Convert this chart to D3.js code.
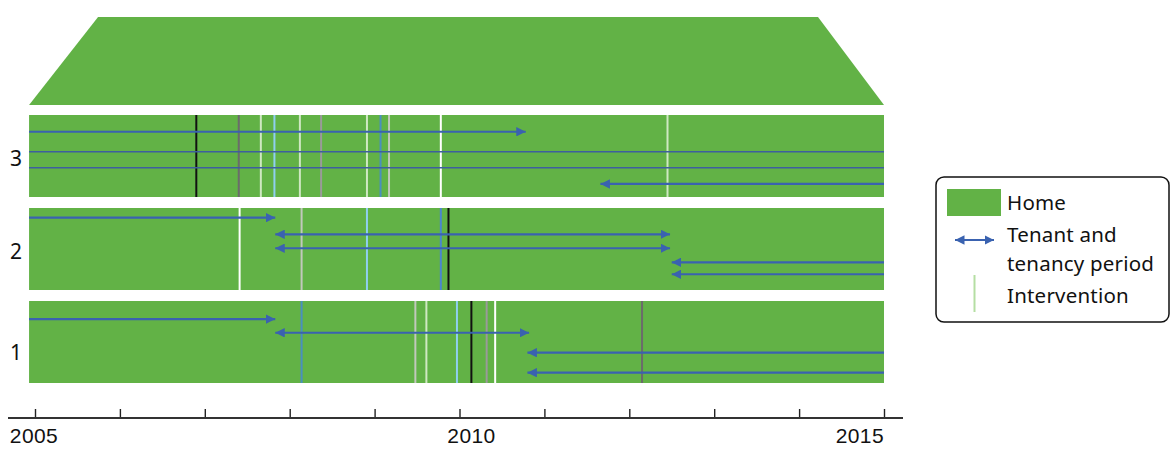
<!DOCTYPE html>
<html>
<head>
<meta charset="utf-8">
<script src="https://cdn.jsdelivr.net/npm/d3@7"></script>
<style>
  html, body { margin: 0; padding: 0; background: #fff; }
  svg { display: block; font-family: "Noto Sans", "Open Sans", sans-serif; }
</style>
</head>
<body>
<svg id="chart" width="1171" height="450"></svg>
<script>
// ---------- data ----------
const homes = ["3", "2", "1"];
const homeStart = 2004.93;
const homeEnd = 2015;
const yearTicks = [2005, 2006, 2007, 2008, 2009, 2010, 2011, 2012, 2013, 2014, 2015];
const yearLabels = [2005, 2010, 2015];

// tenancies: lane is position inside a home, on a 0-10 scale
const tenancyHome  = ["3","3","3","3", "2","2","2","2","2", "1","1","1","1"];
const tenancyLane  = [2.04, 4.48, 6.43, 8.41, 1.18, 3.21, 4.91, 6.62, 8.08, 2.2, 3.87, 6.3, 8.74];
const tenancyStart = [2004.93, 2004.93, 2004.93, 2011.66, 2004.93, 2007.83, 2007.83, 2012.50, 2012.50, 2004.93, 2007.83, 2010.80, 2010.80];
const tenancyEnd   = [2010.78, 2015, 2015, 2015, 2007.83, 2012.48, 2012.48, 2015, 2015, 2007.83, 2010.82, 2015, 2015];
const tenancyHeads = ["end","none","none","start", "end","both","both","start","start", "end","both","start","start"];

// interventions
const interventionHome = ["3","3","3","3","3","3","3","3","3","3","3",
                          "2","2","2","2","2",
                          "1","1","1","1","1","1","1","1"];
const interventionYear = [2006.90, 2007.40, 2007.66, 2007.82, 2008.12, 2008.37, 2008.91, 2009.07, 2009.17, 2009.78, 2012.45,
                          2007.41, 2008.14, 2008.91, 2009.78, 2009.87,
                          2008.14, 2009.48, 2009.61, 2009.97, 2010.14, 2010.32, 2010.42, 2012.15];
const interventionKind = ["black","darkgrey","palegreen","lightblue","palegreen","grey","palegreen","steelblue","palegrey","white","palegreen",
                          "white","palegrey","lightblue","blue","black",
                          "steelblue","palegrey","palegreen","lightblue","black","grey","white","darkgrey"];

// ---------- styles ----------
const GREEN = "#62b246";
const ARROW = "#3a62b0";
const FONT_SIZE = 21;
const LEGEND_FONT = 20.5;
const kindColor = {
  black: "#111111", darkgrey: "#6b6b6b", grey: "#9a9a9a", palegreen: "#cfe8c2",
  white: "#ffffff", lightblue: "#8fcff0", steelblue: "#4a8fbf", palegrey: "#c2c8bc", blue: "#4a86cf"
};

// ---------- scales ----------
const svg = d3.select("#chart");
const x = d3.scaleLinear().domain([2005, 2015]).range([35, 884]);
const y = d3.scaleBand().domain(homes).range([115, 383]).paddingInner(11 / 93).paddingOuter(0);
const lane = d3.scaleLinear().domain([0, 10]).range([0, y.bandwidth()]);

// ---------- roof ----------
const roofBottom = y(homes[0]) - 10;
svg.append("path")
  .attr("d", d3.line()([
    [x(homeStart), roofBottom],
    [x(homeStart) + 69, 17],
    [x(homeEnd) - 66, 17],
    [x(homeEnd), roofBottom]
  ]) + "Z")
  .attr("fill", GREEN);

// ---------- home bands ----------
svg.append("g").selectAll("rect").data(homes).join("rect")
  .attr("x", x(homeStart))
  .attr("width", x(homeEnd) - x(homeStart))
  .attr("y", d => y(d))
  .attr("height", y.bandwidth())
  .attr("fill", GREEN);

// row labels
svg.append("g").selectAll("text").data(homes).join("text")
  .attr("x", 16)
  .attr("y", (d, i) => y(d) + y.bandwidth() / 2 + 2 + (i === homes.length - 1 ? 8 : 0))
  .attr("dy", "0.36em")
  .attr("text-anchor", "middle")
  .attr("font-size", FONT_SIZE)
  .attr("fill", "#111")
  .text(d => d);

// ---------- interventions ----------
const interventions = interventionYear.map((v, i) => ({ home: interventionHome[i], year: v, kind: interventionKind[i] }));
svg.append("g").selectAll("line").data(interventions).join("line")
  .attr("x1", d => x(d.year)).attr("x2", d => x(d.year))
  .attr("y1", d => y(d.home)).attr("y2", d => y(d.home) + y.bandwidth())
  .attr("stroke", d => kindColor[d.kind])
  .attr("stroke-width", 2);

// ---------- arrow marker ----------
const defs = svg.append("defs");
defs.append("marker")
  .attr("id", "head")
  .attr("viewBox", "0 0 10 10")
  .attr("refX", 10).attr("refY", 5)
  .attr("markerUnits", "userSpaceOnUse")
  .attr("markerWidth", 9.5).attr("markerHeight", 9.5)
  .attr("orient", "auto-start-reverse")
  .append("path").attr("d", "M0,0L10,5L0,10Z").attr("fill", ARROW);

// ---------- tenancies ----------
const tenancies = tenancyHome.map((h, i) => ({
  home: h, lane: tenancyLane[i], start: tenancyStart[i], end: tenancyEnd[i], heads: tenancyHeads[i]
}));
svg.append("g").selectAll("line").data(tenancies).join("line")
  .attr("x1", d => x(d.start)).attr("x2", d => x(d.end))
  .attr("y1", d => y(d.home) + lane(d.lane)).attr("y2", d => y(d.home) + lane(d.lane))
  .attr("stroke", d => d.heads === "none" ? "#3d5f9e" : ARROW)
  .attr("stroke-width", d => d.heads === "none" ? 1.3 : 2.2)
  .attr("marker-end", d => (d.heads === "end" || d.heads === "both") ? "url(#head)" : null)
  .attr("marker-start", d => (d.heads === "start" || d.heads === "both") ? "url(#head)" : null);

// ---------- axis ----------
const axisY = 418;
const axisG = svg.append("g").attr("transform", `translate(0,${axisY})`);
axisG.call(d3.axisTop(x).tickValues(yearTicks).tickSize(9).tickFormat(""))
  .call(g => g.select(".domain").remove())
  .call(g => g.selectAll(".tick line").attr("stroke", "#222").attr("stroke-width", 1.4));
axisG.append("line")
  .attr("x1", 8).attr("x2", 903).attr("y1", 0).attr("y2", 0)
  .attr("stroke", "#333").attr("stroke-width", 2);

axisG.selectAll(".ylabel").data(yearLabels).join("text")
  .attr("class", "ylabel")
  .attr("x", d => x(d))
  .attr("dx", (d, i) => i === 0 ? -1 : (i === yearLabels.length - 1 ? 0 : 12))
  .attr("y", 25)
  .attr("text-anchor", (d, i) => i === yearLabels.length - 1 ? "end" : "middle")
  .attr("font-size", FONT_SIZE)
  .attr("letter-spacing", 0.4)
  .attr("fill", "#111")
  .text(d => d);

// ---------- legend ----------
const lg = svg.append("g");
lg.append("rect")
  .attr("x", 936).attr("y", 177).attr("width", 233).attr("height", 145)
  .attr("rx", 8).attr("ry", 8)
  .attr("fill", "#fff").attr("stroke", "#111").attr("stroke-width", 1.5);
lg.append("rect")
  .attr("x", 947).attr("y", 189).attr("width", 54).attr("height", 27)
  .attr("fill", GREEN);
const legendText = (txt, yy) => lg.append("text").attr("x", 1007).attr("y", yy)
  .attr("font-size", LEGEND_FONT).attr("letter-spacing", 0.2).attr("fill", "#111").text(txt);
legendText("Home", 210);
lg.append("line")
  .attr("x1", 955).attr("x2", 994).attr("y1", 240).attr("y2", 240)
  .attr("stroke", ARROW).attr("stroke-width", 2)
  .attr("marker-start", "url(#head)").attr("marker-end", "url(#head)");
legendText("Tenant and", 242);
legendText("tenancy period", 270.5);
lg.append("line")
  .attr("x1", 974.5).attr("x2", 974.5).attr("y1", 275).attr("y2", 312)
  .attr("stroke", "#b5dea3").attr("stroke-width", 2);
legendText("Intervention", 303);
</script>
</body>
</html>
